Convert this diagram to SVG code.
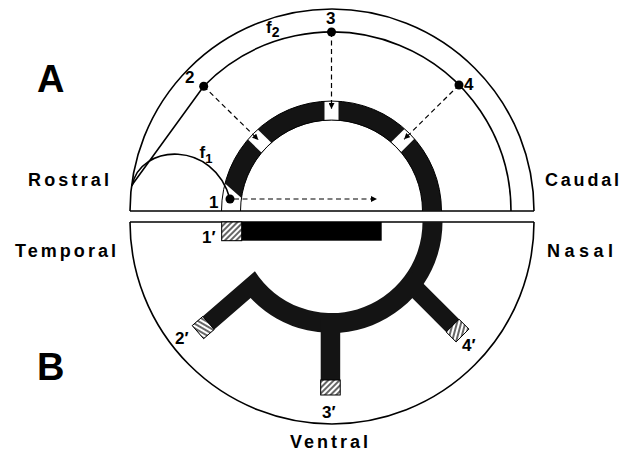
<svg xmlns="http://www.w3.org/2000/svg" width="630" height="452" viewBox="0 0 630 452">
<style>
.ln{fill:none;stroke:#000;stroke-width:1.6}
.thin{fill:none;stroke:#000;stroke-width:1}
.dash{fill:none;stroke:#000;stroke-width:1.2;stroke-dasharray:5 3.5}
.dark{fill:#141414}
.gap{fill:#fff}
.dot{fill:#000}
.hbox{stroke:#000;stroke-width:1}
.lbl{font-family:"Liberation Sans",Arial,Helvetica,sans-serif;font-weight:bold;fill:#000}
.big{font-size:38px}
.side{font-size:18px}
.num{font-size:17px}
</style>
<defs>
<pattern id="hatch1" width="4" height="4" patternUnits="userSpaceOnUse" patternTransform="rotate(45)">
<rect width="4" height="4" fill="#fff"/><line x1="1" y1="0" x2="1" y2="4" stroke="#000" stroke-width="1.2"/>
</pattern>
<pattern id="hatch2" width="4" height="4" patternUnits="userSpaceOnUse" patternTransform="rotate(-60)">
<rect width="4" height="4" fill="#fff"/><line x1="1" y1="0" x2="1" y2="4" stroke="#000" stroke-width="1.2"/>
</pattern>
<pattern id="hatch4" width="4" height="4" patternUnits="userSpaceOnUse" patternTransform="rotate(15)">
<rect width="4" height="4" fill="#fff"/><line x1="1" y1="0" x2="1" y2="4" stroke="#000" stroke-width="1.2"/>
</pattern>
<marker id="arr" markerWidth="7" markerHeight="6" refX="6" refY="3" orient="auto" markerUnits="userSpaceOnUse">
<path d="M0,0 L6,3 L0,6 Z" fill="#000"/>
</marker>
</defs>

<g id="panel-A-frame">
<path class="ln" d="M130,211 A202,202 0 0 1 534,211"/>
<line class="ln" x1="130" y1="211" x2="534" y2="211"/>
</g>

<g id="panel-B-frame">
<path class="ln" d="M130,222 A202,202 0 0 0 534,222"/>
<line class="ln" x1="130" y1="222" x2="534" y2="222"/>
</g>

<g id="ring-A">
<path class="dark" d="M225,183.5 A110,110 0 0 1 441.5,211 L422.5,211 A91,91 0 0 0 241.5,197.9 Z"/>
<rect class="gap" x="-7" y="-110" width="14" height="19" transform="translate(331.5,211)"/>
<rect class="gap" x="-7" y="-110" width="14" height="19" transform="translate(331.5,211) rotate(-45.8)"/>
<rect class="gap" x="-7" y="-110" width="14" height="19" transform="translate(331.5,211) rotate(45.3)"/>
<path class="thin" d="M221.5,211 A110,110 0 0 1 441.5,211 M240.5,211 A91,91 0 0 1 422.5,211"/>
</g>

<g id="fibers">
<path id="f2" class="ln" d="M132,185 L203.7,86.2 A179,179 0 0 1 511,211"/>
<path id="f1" class="ln" d="M132,186 C140,143 214,140 230,199"/>
</g>

<g id="ring-B">
<path class="dark" d="M442.5,222 A111,111 0 0 1 250.6,298 L203.6,338.7 L192.2,325.6 L254.9,271.2 A91,91 0 0 0 422.5,222 Z"/>
<polygon class="dark" points="412.3,272.5 468.9,329.1 456.1,341.9 399.5,285.3"/>
<rect class="dark" x="320.7" y="318" width="19.5" height="77"/>
<rect x="221.7" y="222" width="160" height="18.7" fill="#000"/>
</g>

<g id="node-1p">
<rect class="hbox" x="221.7" y="222" width="20" height="18.7" fill="url(#hatch1)"/>
<text class="lbl num" x="202" y="243">1′</text>
</g>
<g id="node-2p">
<polygon class="hbox" points="192.2,325.6 202.8,316.4 214.2,329.5 203.6,338.7" fill="url(#hatch2)"/>
<text class="lbl num" x="175" y="344">2′</text>
</g>
<g id="node-3p">
<rect class="hbox" x="320.7" y="380" width="19.5" height="15" fill="url(#hatch1)"/>
<text class="lbl num" x="322" y="418">3′</text>
</g>
<g id="node-4p">
<polygon class="hbox" points="459,319.2 468.9,329.1 456.1,341.9 446.2,332" fill="url(#hatch4)"/>
<text class="lbl num" x="462" y="351">4′</text>
</g>

<g id="connectors">
<line class="dash" x1="234" y1="199" x2="377" y2="199" marker-end="url(#arr)"/>
<line class="dash" x1="203.7" y1="86.2" x2="258.4" y2="139.9" marker-end="url(#arr)"/>
<line class="dash" x1="331.5" y1="32" x2="331.5" y2="109" marker-end="url(#arr)"/>
<line class="dash" x1="459" y1="85" x2="404.1" y2="139.3" marker-end="url(#arr)"/>
</g>

<g id="node-1">
<circle class="dot" cx="230" cy="199" r="4.5"/>
<text class="lbl num" x="209" y="208">1</text>
</g>
<g id="node-2">
<circle class="dot" cx="203.7" cy="86.2" r="4.5"/>
<text class="lbl num" x="185" y="83">2</text>
</g>
<g id="node-3">
<circle class="dot" cx="331.5" cy="32" r="4.5"/>
<text class="lbl num" x="326" y="23.5">3</text>
</g>
<g id="node-4">
<circle class="dot" cx="459" cy="85" r="4.5"/>
<text class="lbl num" x="464" y="90">4</text>
</g>

<g id="labels">
<text class="lbl num" x="199.5" y="158">f<tspan font-size="13" dy="5">1</tspan></text>
<text class="lbl num" x="266" y="33">f<tspan font-size="14" dy="4">2</tspan></text>
<text class="lbl big" x="37" y="92">A</text>
<text class="lbl big" x="37" y="380">B</text>
<text class="lbl side" x="28" y="185.5" textLength="81" lengthAdjust="spacing">Rostral</text>
<text class="lbl side" x="545" y="185.5" textLength="74" lengthAdjust="spacing">Caudal</text>
<text class="lbl side" x="15" y="257" textLength="101" lengthAdjust="spacing">Temporal</text>
<text class="lbl side" x="547" y="257" textLength="66" lengthAdjust="spacing">Nasal</text>
<text class="lbl side" x="290" y="448" textLength="78" lengthAdjust="spacing">Ventral</text>
</g>
</svg>
